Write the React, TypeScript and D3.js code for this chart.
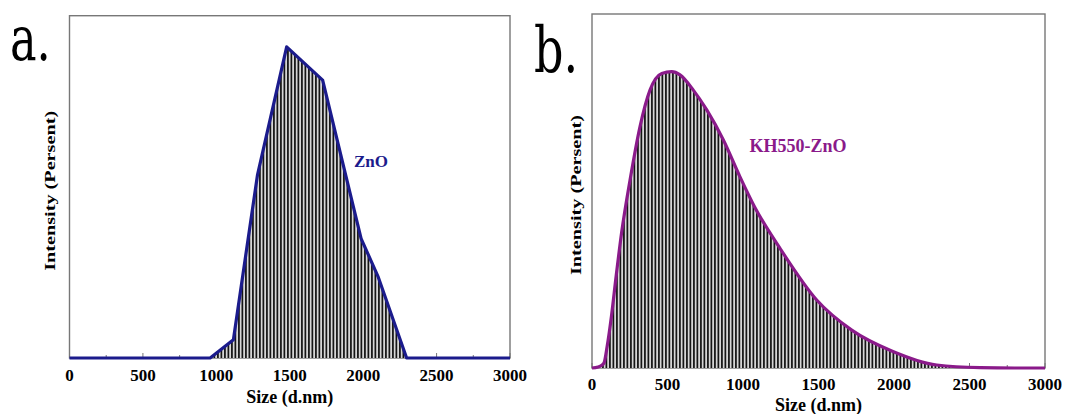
import * as d3 from 'd3';
import { useEffect, useRef } from 'react';

const W = 1066;
const H = 414;

// ZnO size distribution (panel a)
const sizesA = [0, 958, 1116, 1280, 1479, 1724, 1986, 2103, 2296, 3000];
const intensityA = [0, 0, 5.3, 53.4, 90.9, 81.2, 34.9, 23.6, 0, 0];

// KH550-ZnO size distribution (panel b)
const sizesB = [0, 40, 62, 80, 100, 129, 160, 196, 252, 318, 384, 462, 528, 583, 671, 760, 870, 980, 1077, 1245, 1488, 1720, 1985, 2283, 2570, 2800, 3000];
const intensityB = [0, 0.3, 0.7, 1.5, 6, 14.7, 26, 38.2, 53.1, 68.2, 78.5, 83.2, 83.7, 82.8, 78.5, 72.9, 64.4, 54.0, 45.5, 33.8, 19.2, 10.7, 4.8, 0.85, 0.1, 0, 0];

const xTicks = [0, 500, 1000, 1500, 2000, 2500, 3000];
const xMinorTicks = [250, 750, 1250, 1750, 2250, 2750];

const panels = [
  {
    letter: 'a.', letterX: 10, letterY: 60, letterSize: 62,
    left: 69.5, right: 510, top: 15.7, bottom: 358,
    sizes: sizesA, values: intensityA, color: '#1b1b8c', smooth: false,
    name: 'ZnO', nameX: 354, nameY: 166.5, nameSize: 17,
    yLabelX: 55, tickY: 381, xLabelY: 403,
  },
  {
    letter: 'b.', letterX: 534, letterY: 72, letterSize: 64,
    left: 592, right: 1045, top: 14, bottom: 368,
    sizes: sizesB, values: intensityB, color: '#8a1a8a', smooth: true,
    name: 'KH550-ZnO', nameX: 749.5, nameY: 151.7, nameSize: 18,
    yLabelX: 581, tickY: 390, xLabelY: 411,
  },
];

const App = () => {
  const svgRef = useRef(null);

  useEffect(() => {
    const svg = d3.select(svgRef.current);
    svg.selectAll('*').remove();

    // vertical hatching like the instrument's bar fill
    const pat = svg.append('defs').append('pattern')
      .attr('id', 'hatch')
      .attr('patternUnits', 'userSpaceOnUse')
      .attr('width', 3.5)
      .attr('height', 10);
    pat.append('rect').attr('width', 3.5).attr('height', 10).attr('fill', '#d6d6d6');
    pat.append('line')
      .attr('x1', 0.9).attr('x2', 0.9).attr('y1', 0).attr('y2', 10)
      .attr('stroke', '#111').attr('stroke-width', 1.7);

    const serif = "'Liberation Serif', 'DejaVu Serif', Times, serif";

    panels.forEach((p) => {
      const g = svg.append('g');
      const x = d3.scaleLinear().domain([0, 3000]).range([p.left, p.right]);
      const y = d3.scaleLinear().domain([0, 100]).range([p.bottom, p.top]);
      const pts = p.sizes.map((s, i) => [s, p.values[i]]);
      const curve = p.smooth ? d3.curveMonotoneX : d3.curveLinear;

      // frame
      g.append('rect')
        .attr('x', p.left).attr('y', p.top)
        .attr('width', p.right - p.left).attr('height', p.bottom - p.top)
        .attr('fill', 'none').attr('stroke', '#777').attr('stroke-width', 1.4);

      // ticks, pointing inward
      g.selectAll('.major').data(xTicks).enter().append('line')
        .attr('x1', (d) => x(d)).attr('x2', (d) => x(d))
        .attr('y1', p.bottom).attr('y2', p.bottom - 5)
        .attr('stroke', '#777').attr('stroke-width', 1);
      g.selectAll('.minor').data(xMinorTicks).enter().append('line')
        .attr('x1', (d) => x(d)).attr('x2', (d) => x(d))
        .attr('y1', p.bottom).attr('y2', p.bottom - 3)
        .attr('stroke', '#777').attr('stroke-width', 1);

      const area = d3.area()
        .x((d) => x(d[0]))
        .y0(y(0))
        .y1((d) => y(d[1]))
        .curve(curve);
      g.append('path').attr('d', area(pts)).attr('fill', 'url(#hatch)');

      const line = d3.line()
        .x((d) => x(d[0]))
        .y((d) => y(d[1]))
        .curve(curve);
      g.append('path').attr('d', line(pts))
        .attr('fill', 'none').attr('stroke', p.color)
        .attr('stroke-width', 3.2).attr('stroke-linejoin', 'round');

      // tick labels
      g.selectAll('.tl').data(xTicks).enter().append('text')
        .attr('x', (d) => x(d)).attr('y', p.tickY)
        .attr('text-anchor', 'middle')
        .style('font-family', serif).style('font-weight', 'bold').style('font-size', '17px')
        .text((d) => d);

      g.append('text')
        .attr('x', (p.left + p.right) / 2).attr('y', p.xLabelY)
        .attr('text-anchor', 'middle')
        .style('font-family', serif).style('font-weight', 'bold').style('font-size', '18px')
        .text('Size (d.nm)');

      g.append('text')
        .attr('transform', `translate(${p.yLabelX},${(p.top + p.bottom) / 2 + 4}) rotate(-90)`)
        .attr('text-anchor', 'middle')
        .style('font-family', serif).style('font-weight', 'bold').style('font-size', '15px')
        .attr('textLength', 160).attr('lengthAdjust', 'spacingAndGlyphs')
        .text('Intensity (Persent)');

      g.append('text')
        .attr('x', p.nameX).attr('y', p.nameY)
        .style('font-family', serif).style('font-weight', 'bold').style('font-size', `${p.nameSize}px`)
        .attr('fill', p.color)
        .text(p.name);

      // panel letter, narrowed to look like Times
      g.append('text')
        .attr('transform', `translate(${p.letterX},${p.letterY}) scale(0.72,1)`)
        .style('font-family', "'DejaVu Serif', serif").style('font-weight', 'normal').style('font-size', `${p.letterSize}px`)
        .text(p.letter);
    });

    return () => {
      svg.selectAll('*').remove();
    };
  }, []);

  return (
    <svg
      ref={svgRef}
      width={W}
      height={H}
      style={{ position: 'absolute', left: 0, top: 0, background: '#fff' }}
    />
  );
};

export default App;
